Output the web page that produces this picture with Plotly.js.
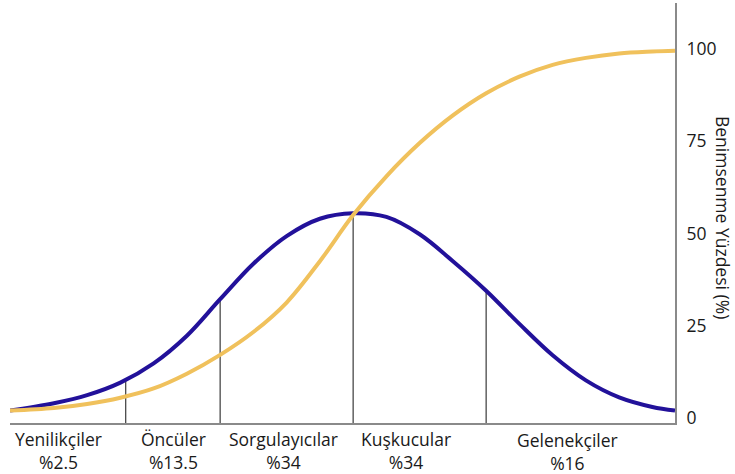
<!DOCTYPE html>
<html>
<head>
<meta charset="utf-8">
<script src="https://cdn.plot.ly/plotly-3.0.1.min.js"></script>
<style>html,body{margin:0;padding:0;background:#fff;}</style>
</head>
<body>
<div id="chart" style="width:735px;height:474px;"></div>
<script>
// x in standard deviations from the mean
const bellX = [-2.58, -2.25, -2.00, -1.75, -1.50, -1.25, -1.00, -0.75, -0.50, -0.25, 0.00, 0.25, 0.50, 0.75, 1.00, 1.25, 1.50, 1.75, 2.00, 2.25, 2.42];
const bellY = [2.0, 4.0, 6.2, 9.6, 14.8, 22.3, 32.2, 41.8, 49.3, 54.0, 55.5, 54.5, 49.8, 42.5, 34.5, 25.5, 17.0, 10.2, 5.6, 3.0, 2.0];

const cumX = [-2.58, -2.25, -2.00, -1.75, -1.50, -1.25, -1.00, -0.75, -0.50, -0.25, 0.00, 0.25, 0.50, 0.75, 1.00, 1.25, 1.50, 1.75, 2.00, 2.25, 2.42];
const cumY = [2.0, 2.7, 3.8, 5.5, 8.0, 12.0, 17.1, 23.3, 31.3, 42.5, 55.0, 65.5, 74.5, 82.0, 88.0, 92.5, 95.7, 97.6, 98.8, 99.3, 99.5];

const boundaryX = [-1.71, -1.00, 0.00, 1.00];
const boundaryTop = [10.2, 32.2, 55.5, 34.5];

const groupNames = ["Yenilikçiler", "Öncüler", "Sorgulayıcılar", "Kuşkucular", "Gelenekçiler"];
const groupShares = ["%2.5", "%13.5", "%34", "%34", "%16"];

const yTicks = [0, 25, 50, 75, 100];
const yTitle = "Benimsenme Yüzdesi (%)";

const yRange = [-1.355, 112.47];
const xRange = [-2.58, 2.42];
const labelX = [-2.218, -1.35, -0.526, 0.395, 1.609];

const FONT = "Open Sans, Noto Sans, sans-serif";
const FS = 17.5;

const traces = [];
boundaryX.forEach((bx, i) => {
  traces.push({
    x: [bx, bx], y: [yRange[0], boundaryTop[i]],
    mode: "lines", line: {color: "#3a3a3a", width: 1.2},
    hoverinfo: "skip", showlegend: false
  });
});
traces.push({
  x: bellX, y: bellY, mode: "lines",
  line: {color: "#22119a", width: 4, shape: "spline", smoothing: 1},
  showlegend: false
});
traces.push({
  x: cumX, y: cumY, mode: "lines",
  line: {color: "#f0c15c", width: 4, shape: "spline", smoothing: 1},
  showlegend: false
});

const annotations = [];
groupNames.forEach((name, i) => {
  annotations.push({
    x: labelX[i], xref: "x", y: 0, yref: "paper",
    text: name + "<br>" + groupShares[i], showarrow: false,
    xanchor: "center", yanchor: "middle", align: "center",
    yshift: (i === 4) ? -28.5 : -27.5,
    font: {family: FONT, size: FS, color: "#1a1a1a"}
  });
});
annotations.push({
  x: 1, xref: "paper", xshift: 48, y: 0.4905, yref: "paper",
  text: yTitle, textangle: 90, showarrow: false,
  xanchor: "center", yanchor: "middle",
  font: {family: FONT, size: FS, color: "#1a1a1a"}
});

const layout = {
  width: 735, height: 474,
  margin: {l: 10, r: 60, t: 3, b: 51},
  paper_bgcolor: "#ffffff", plot_bgcolor: "#ffffff",
  font: {family: FONT, size: FS, color: "#1a1a1a"},
  showlegend: false,
  xaxis: {
    range: xRange, showgrid: false, zeroline: false,
    showticklabels: false, ticks: "",
    showline: true, linecolor: "#8a8a8a", linewidth: 2
  },
  yaxis: {
    range: yRange, side: "right", showgrid: false, zeroline: false,
    tickvals: yTicks, ticktext: yTicks.map(String), ticks: "",
    ticklabelstandoff: 6,
    showline: true, linecolor: "#8a8a8a", linewidth: 2,
    tickfont: {family: FONT, size: FS, color: "#1a1a1a"}
  },
  annotations: annotations
};

Plotly.newPlot("chart", traces, layout, {displayModeBar: false, staticPlot: true});
</script>
</body>
</html>
